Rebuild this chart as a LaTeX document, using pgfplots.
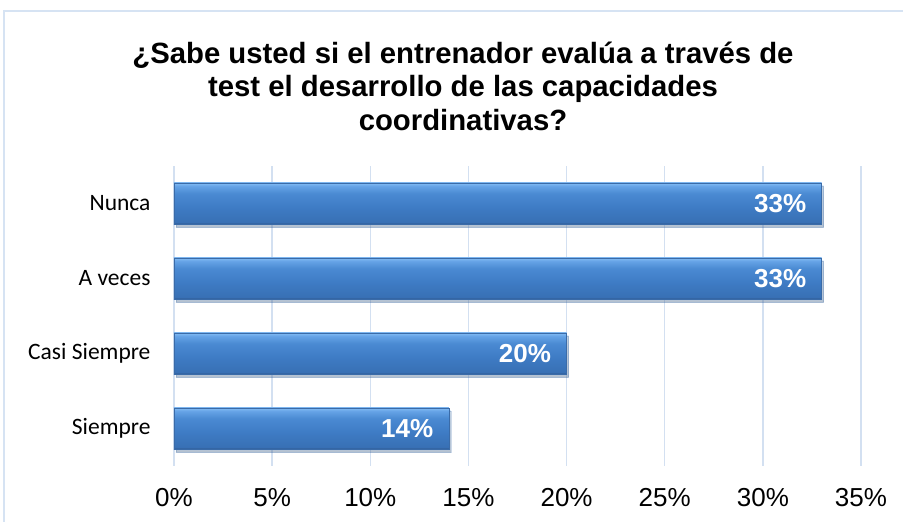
\documentclass[border=0pt]{standalone}
\usepackage{pgfplots}
\pgfplotsset{compat=1.18}
\usepackage{fontspec}
\setmainfont{Liberation Sans}
\newfontfamily\calibri{Carlito}
\usetikzlibrary{shadows}
\definecolor{gridc}{HTML}{D3E0F1}
\definecolor{borderc}{HTML}{D6E3F3}
\definecolor{bEdgeB}{HTML}{2B5286}
\definecolor{bLow}{HTML}{3870B4}
\definecolor{bMid}{HTML}{3E7BC4}
\definecolor{bUp}{HTML}{4A8AD2}
\definecolor{bHi}{HTML}{65A3E6}
\definecolor{bTop}{HTML}{7DB6F0}
\definecolor{barEdge}{HTML}{3A6BA8}
\pgfdeclareverticalshading{barshade}{100bp}{%
  color(0bp)=(bEdgeB); color(25bp)=(bEdgeB); color(27bp)=(bLow);
  color(45bp)=(bMid); color(62bp)=(bUp); color(71bp)=(bHi);
  color(74bp)=(bTop); color(75bp)=(bTop); color(100bp)=(bTop)}
\pgfplotsset{mybar/.style={draw=barEdge, line width=0.5pt, shading=barshade, bar shift=0pt,
  drop shadow={shadow xshift=2pt, shadow yshift=-3pt, opacity=0.25}}}
\begin{document}
\begin{tikzpicture}
\path[use as bounding box] (0,0) rectangle (903pt,522pt);
\draw[color=borderc, line width=1.5pt] (4pt,-10pt) -- (4pt,511pt) -- (920pt,511pt);
\node[align=center, font=\bfseries\fontsize{29.3}{33.5}\selectfont] at (463pt,436pt)
  {¿Sabe usted si el entrenador evalúa a través de\\test el desarrollo de las capacidades\\coordinativas?};
\begin{axis}[
  at={(174pt,56pt)}, anchor=south west,
  scale only axis, width=687pt, height=300pt,
  xmin=0, xmax=35, ymin=-0.5, ymax=3.5,
  xtick={0,5,...,35},
  xticklabels={0\%,5\%,10\%,15\%,20\%,25\%,30\%,35\%},
  ytick={0,1,2,3},
  yticklabels={Siempre,Casi Siempre,A veces,Nunca},
  xmajorgrids, ymajorgrids=false,
  grid style={gridc, line width=1.5pt},
  axis line style={draw=none},
  major tick length=0pt,
  xticklabel style={font=\fontsize{26}{26}\selectfont, yshift=-19pt},
  yticklabel style={font=\calibri\fontsize{23.5}{26}\selectfont, xshift=-20pt},
  xbar, bar width=0.55,
  point meta=x,
  nodes near coords={\pgfmathprintnumber{\pgfplotspointmeta}\%},
  nodes near coords style={anchor=east, xshift=-12pt, font=\bfseries\fontsize{26}{26}\selectfont, text=white},
  /pgf/number format/assume math mode=true,
  clip=false,
]
\addplot[mybar] coordinates {(14,0)};
\addplot[mybar] coordinates {(20,1)};
\addplot[mybar] coordinates {(33,2)};
\addplot[mybar] coordinates {(33,3)};
\end{axis}
\end{tikzpicture}
\end{document}
